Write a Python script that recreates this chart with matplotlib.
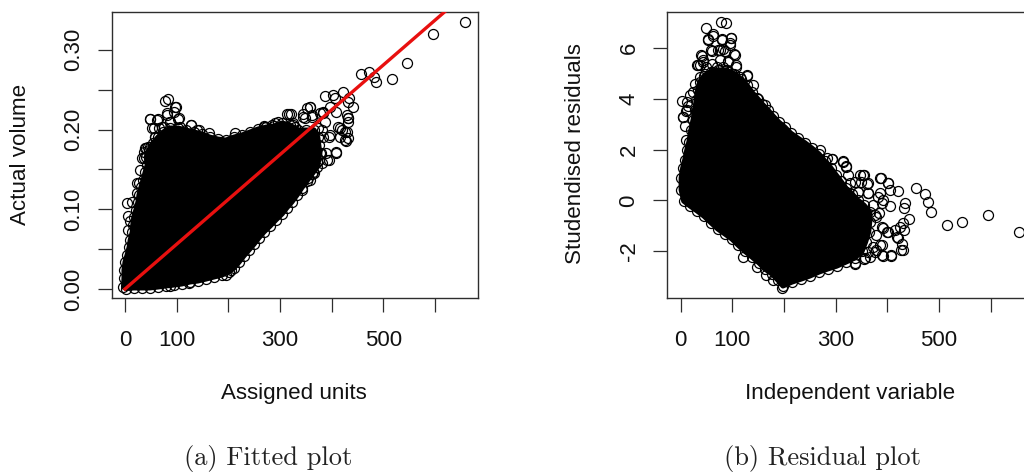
import matplotlib
matplotlib.use("Agg")
import matplotlib.pyplot as plt

W, H = 1024, 472

# Panel (a): sparse points
fit_pts_x = [657,595,545,516,457,473,481,485,387,402,406,421,434,432,442,408,430,432,432,413,419,426,432,428,416,395,381,387,377,384,397,352,357,345,348,361,313,321,325,329,297,284,268,408,394,389,381,366,358,342,84,77,97,81,94,103,48,63,52,65,58,75,128,139,87,39,45,32,37,23,27,3,13,6,10,6,195,206,124,87,
             213,268,290,318,326,358,344,361,384,374,384,396,409,390,380,371,364,355,416,429,426,432,
             49,62,56,72,59,81,98,104,127,88,107,143,162,40,36,49,72,91,23,30]
fit_pts_y = [.3344,.3194,.283,.2638,.2696,.2722,.2663,.2596,.2421,.2437,.2391,.2467,.2391,.2345,.2287,.2224,.2182,.214,.2099,.2028,.1994,.1973,.1898,.186,.191,.191,.1994,.2099,.2203,.2224,.2287,.2266,.2278,.2191,.214,.2182,.2191,.2191,.2078,.2036,.2099,.2057,.2036,.1701,.1618,.1701,.1576,.1451,.1367,.1242,.2383,.2362,.2287,.2182,.2216,.2132,.2128,.2128,.2023,.2023,.191,.2036,.2057,.1994,.2099,.1773,.1785,.1647,.1722,.1208,.1334,.1083,.1091,.0916,.0857,.074,.0176,.0238,.0071,.0042,
             .1952,.2044,.2085,.2194,.2056,.2286,.2161,.2161,.2202,.2014,.191,.1931,.1713,.1617,.1701,.1596,.1471,.1387,.2014,.1973,.1868,.214,
             .2127,.2119,.2014,.2035,.191,.2202,.2286,.214,.2056,.2098,.2035,.1993,.1952,.1764,.1638,.1784,.191,.1973,.1325,.1492]
# Panel (a): points along the edge of the solid overplotted region
fit_edge_x = [-3,-2,-2,0,4,8,10,14,15,17,21,25,27,31,35,39,43,41,46,54,64,74,87,103,118,134,149,164,180,195,211,226,242,257,273,288,304,319,335,350,366,373,375,377,375,372,362,352,342,333,323,313,304,292,281,269,259,250,240,230,221,211,201,188,172,157,141,126,110,95,79,64,48,33,17,2]
fit_edge_y = [.0025,.0138,.0238,.0339,.0426,.0527,.0614,.0715,.0803,.0903,.0991,.1091,.1179,.1279,.1367,.1467,.1555,.1655,.1743,.1831,.1906,.1969,.2019,.2019,.1994,.1969,.1944,.1906,.1881,.1868,.1906,.1931,.1969,.2006,.2031,.2044,.2082,.2057,.1994,.1994,.1994,.1906,.1806,.1705,.1618,.153,.1442,.1354,.1267,.1179,.1091,.1016,.0941,.0865,.079,.0715,.064,.0564,.0489,.0414,.0339,.0263,.0213,.0176,.015,.0125,.01,.0088,.0063,.005,.0038,.0025,.0013,.0013,.0013,.0005]
# Panel (a): fitted line
line_x = [0, 640]
line_y = [0, 0.3597]

# Panel (b): sparse points
res_pts_x = [655,594,544,515,485,478,472,455,441,434,432,431,432,425,415,418,421,428,431,426,408,391,386,400,391,379,366,406,421,405,402,387,386,392,383,379,360,354,347,328,344,363,321,314,292,283,270,79,88,49,63,54,97,81,95,76,59,86,104,39,43,32,37,107,92,129,3,14,10,5,8,10,197,178,166,121,147,337,354,
             63,53,81,97,95,83,60,73,105,41,34,44,60,76,92,108,128,47,37,63,89,115,28,24,141,150,163,12,5,50,70,83,57,76,99,18,12,
             292,315,321,324,337,353,349,363,344,363,386,402,382,389,373,376,389,379,389,373,363,376,389,408,402,337,357]
res_pts_y = [-1.26,-.57,-.87,-.97,-.46,-.08,.25,.47,-.72,-.12,-.32,-.91,-1.17,-1.04,-1.17,-1.43,-1.5,-1.7,-1.96,-1.96,-2.18,-2.18,-1.74,-1.24,-1.07,-1.96,-2.22,-.22,.37,.41,.67,.87,.28,.01,-.51,-.64,.64,1.0,1.0,.67,.34,.28,1.37,1.55,1.62,1.66,1.99,7.03,6.99,6.79,6.53,6.33,6.37,6.3,6.2,5.93,5.91,5.87,5.74,5.71,5.54,5.32,5.34,5.32,5.47,4.91,3.89,3.7,3.5,3.28,2.91,2.38,-3.43,-3.12,-2.95,-2.22,-2.62,-2.49,-2.29,
             6.47,6.30,6.34,6.39,6.10,5.97,5.87,5.90,5.71,5.68,5.31,5.45,5.38,5.51,5.45,5.25,4.92,4.99,4.85,5.05,5.12,4.86,4.59,4.26,4.53,4.0,3.74,3.54,3.28,5.25,5.25,5.25,4.92,4.92,4.99,4.13,3.87,
             1.61,1.52,1.32,.99,.73,.99,.73,.67,.34,.28,.87,.67,.14,-.12,-.18,-.58,-1.04,-1.37,-1.76,-1.82,-2.02,-2.02,-2.15,-2.15,-1.23,-2.48,-2.28]
# Panel (b): points along the edge of the solid overplotted region
res_edge_x = [1,1,4,8,12,16,20,24,28,30,33,37,45,59,72,88,104,117,128,138,148,158,169,179,190,202,213,227,241,254,268,279,291,301,310,320,332,343,355,366,366,364,358,351,337,320,302,285,268,250,233,215,198,188,177,163,152,138,124,111,99,86,72,59,45,32,18,6]
res_edge_y = [.41,.88,1.27,1.59,1.98,2.30,2.77,3.16,3.56,3.95,4.34,4.66,4.89,5.05,5.13,5.13,4.98,4.78,4.54,4.26,4.03,3.79,3.56,3.32,3.08,2.88,2.65,2.45,2.26,2.06,1.82,1.55,1.27,1.0,.76,.48,.25,.01,-.19,-.46,-.85,-1.25,-1.64,-2.0,-2.27,-2.43,-2.59,-2.70,-2.82,-2.98,-3.10,-3.22,-3.37,-3.14,-2.90,-2.70,-2.47,-2.23,-2.00,-1.76,-1.52,-1.33,-1.13,-.89,-.62,-.42,-.22,-.03]

x_ticks = [0, 100, 200, 300, 400, 500, 600]
x_labels = ["0", "100", "", "300", "", "500", ""]
fit_yticks = [0, .05, .10, .15, .20, .25, .30]
fit_ylabels = ["0.00", "", "0.10", "", "0.20", "", "0.30"]
res_yticks = [-2, 0, 2, 4, 6]
res_ylabels = ["-2", "0", "2", "4", "6"]

SANS = "Liberation Sans"
DARK = "#2e2e2e"
INK = "#111111"

fig = plt.figure(figsize=(W / 100, H / 100), dpi=100)


def panel(left, right, top, bottom, xlim, ylim):
    ax = fig.add_axes([left / W, 1 - bottom / H, (right - left) / W, (bottom - top) / H])
    ax.set_xlim(*xlim)
    ax.set_ylim(*ylim)
    for s in ax.spines.values():
        s.set_linewidth(1.0)
        s.set_color(DARK)
    ax.tick_params(length=10, width=0.9, color=DARK, labelcolor=INK, labelsize=16)
    ax.tick_params(axis="x", pad=13)
    ax.tick_params(axis="y", pad=10)
    ax.set_xticks(x_ticks, x_labels, family=SANS)
    return ax


def draw(ax, ex, ey, px, py):
    ax.fill(ex, ey, facecolor="black", edgecolor="black", lw=3.6, joinstyle="round", zorder=2)
    style = dict(ls="none", marker="o", ms=7.2, mfc="none", mec="black", mew=0.9, zorder=3)
    ax.plot(ex, ey, **style)
    ax.plot(px, py, **style)


ax1 = panel(111.7, 478, 12, 297.7, (-25.7, 683), (-0.0109, 0.3474))
draw(ax1, fit_edge_x, fit_edge_y, fit_pts_x, fit_pts_y)
ax1.plot(line_x, line_y, color="#e8100f", lw=2.4, zorder=4)
ax1.set_yticks(fit_yticks, fit_ylabels, family=SANS, rotation=90, va="center")

ax2 = panel(667.3, 1033.6, 12, 297.7, (-25.7, 683), (-3.83, 7.41))
draw(ax2, res_edge_x, res_edge_y, res_pts_x, res_pts_y)
ax2.set_yticks(res_yticks, res_ylabels, family=SANS, rotation=90, va="center")


def label(x, y, s, **kw):
    fig.text(x / W, 1 - y / H, s, ha="center", va="center", **kw)


label(294, 393.5, "Assigned units", family=SANS, size=16.1, color=INK)
label(850, 393.5, "Independent variable", family=SANS, size=16.1, color=INK)
label(21, 154, "Actual volume", family=SANS, size=16.1, rotation=90, color=INK)
label(575.5, 154, "Studendised residuals", family=SANS, size=16.1, rotation=90, color=INK)
label(268, 458.5, "(a) Fitted plot", family=["cmr10", "DejaVu Serif"], size=19, color="#222222")
label(823, 458.5, "(b) Residual plot", family=["cmr10", "DejaVu Serif"], size=19, color="#222222")

fig.savefig("out.png", dpi=100)
